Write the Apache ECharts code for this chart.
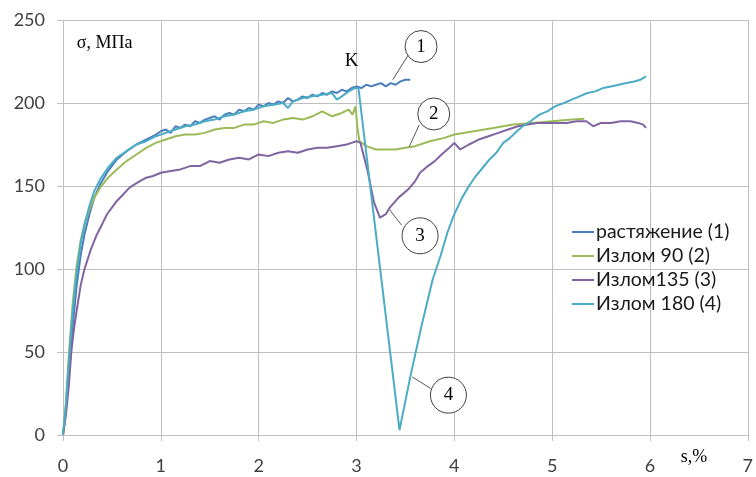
<!DOCTYPE html>
<html><head><meta charset="utf-8">
<script src="https://cdn.jsdelivr.net/npm/echarts@6/dist/echarts.min.js"></script>
<style>html,body{margin:0;padding:0;background:#fff}#c{width:756px;height:477px}</style>
</head><body><div id="c"></div>
<script>
// ---------- DATA ----------
const seriesNames = ['растяжение (1)', 'Излом 90 (2)', 'Излом135 (3)', 'Излом 180 (4)'];

const strainTension = [0,0.03,0.06,0.1,0.14,0.18,0.22,0.27,0.32,0.38,0.46,0.55,0.65,0.75,0.85,0.95,1.0,1.05,1.1,1.15,1.2,1.25,1.3,1.35,1.4,1.45,1.5,1.55,1.6,1.65,1.7,1.75,1.8,1.85,1.9,1.95,2.0,2.05,2.1,2.15,2.2,2.25,2.3,2.35,2.4,2.45,2.5,2.55,2.6,2.65,2.7,2.75,2.8,2.85,2.9,2.95,3.0,3.05,3.1,3.15,3.2,3.25,3.3,3.35,3.4,3.45,3.5,3.55];
const stressTension = [0,15,38,66,90,108,121,133,143,151,159,166,171,175,178,181,183,184,182,186,185,187,186,189,188,190,191,192,190,193,194,193,196,195,197,196,199,198,200,199,201,200,203,201,202,204,203,205,204,206,205,207,206,208,207,209,210,209,211,210,211,212,210,212,211,213,214,214];

const strainBend90 = [0,0.03,0.06,0.1,0.14,0.18,0.22,0.27,0.32,0.38,0.46,0.55,0.65,0.75,0.85,0.95,1.05,1.15,1.25,1.35,1.45,1.55,1.65,1.75,1.85,1.95,2.05,2.15,2.25,2.35,2.45,2.55,2.65,2.75,2.85,2.92,2.96,2.99,3.01,3.03,3.1,3.2,3.3,3.4,3.5,3.6,3.75,3.9,4.0,4.2,4.4,4.6,4.8,5.0,5.2,5.33];
const stressBend90 = [0,20,48,80,102,117,127,136,143,149,155,160,165,169,173,176,178,180,181,181,182,184,185,185,187,187,189,188,190,191,190,192,195,192,194,196,193,198,185,177,174,172,172,172,173,174,177,179,181,183,185,187,188,189,190,190.5];

const strainBend135 = [0,0.03,0.06,0.085,0.11,0.14,0.18,0.22,0.28,0.34,0.4,0.45,0.5,0.55,0.6,0.68,0.76,0.85,0.92,1.0,1.1,1.2,1.3,1.4,1.5,1.6,1.7,1.8,1.9,2.0,2.1,2.2,2.3,2.4,2.5,2.6,2.7,2.8,2.9,2.95,3.0,3.04,3.11,3.18,3.24,3.3,3.34,3.43,3.53,3.6,3.65,3.73,3.8,3.87,3.95,4.0,4.06,4.15,4.25,4.35,4.45,4.55,4.65,4.75,4.85,4.95,5.05,5.15,5.25,5.35,5.42,5.5,5.6,5.7,5.8,5.88,5.93,5.96];
const stressBend135 = [0,12,30,50,63,75,90,100,111,120,127,133,137,141,144,149,152,155,156,158,159,160,162,162,165,164,166,167,166,169,168,170,171,170,172,173,173,174,175,176,177,176,160,140,131,133,137,143,148,153,158,162,165,169,173,176,172,175,178,180,182,184,186,187,188,188,188,188,189,189,186,188,188,189,189,188,187,185];

const strainBend180 = [0,0.03,0.06,0.1,0.14,0.18,0.22,0.27,0.32,0.38,0.46,0.55,0.65,0.75,0.85,0.95,1.05,1.15,1.25,1.35,1.45,1.55,1.65,1.75,1.85,1.95,2.05,2.15,2.25,2.3,2.35,2.45,2.55,2.65,2.75,2.8,2.85,2.92,2.98,3.02,3.44,3.55,3.67,3.78,3.86,3.93,4.0,4.08,4.15,4.22,4.29,4.36,4.43,4.5,4.57,4.64,4.7,4.78,4.87,4.95,5.03,5.12,5.2,5.28,5.36,5.44,5.52,5.6,5.68,5.76,5.84,5.9,5.96];
const stressBend180 = [0,18,45,75,98,115,127,138,147,154,161,167,171,175,177,180,182,184,186,187,189,190,192,193,195,196,198,199,200,197,201,203,204,205,206,202,204,207,209,209,3,35,67,94,108,122,133,143,150,156,161,166,170,176,179,183,186,189,193,195,198,200,202,204,206,207,209,210,211,212,213,214,216];

const yMax = 250, yStep = 50, xMax = 7, xStep = 1;

// ---------- CHART ----------
const colors = ['#4A7EBB', '#9BBB59', '#8064A2', '#4BACC6'];
const xs = [strainTension, strainBend90, strainBend135, strainBend180];
const ys = [stressTension, stressBend90, stressBend135, stressBend180];

const chart = echarts.init(document.getElementById('c'), null, {renderer: 'canvas'});
const gridCol = '#BFBFBF';
const sansFont = 'Lato, "Open Sans", sans-serif';
const serifFont = '"Liberation Serif", "DejaVu Serif", serif';

const series = seriesNames.map((name, i) => ({
  name, type: 'line', showSymbol: false, symbol: 'none', smooth: false,
  data: xs[i].map((x, k) => [x, ys[i][k]]),
  lineStyle: {color: colors[i], width: 2},
  itemStyle: {color: colors[i]},
  emphasis: {disabled: true}
}));

chart.setOption({
  animation: false,
  backgroundColor: '#fff',
  color: colors,
  grid: {left: 63, right: 7, top: 20, bottom: 42, containLabel: false},
  xAxis: {
    type: 'value', min: 0, max: xMax, interval: xStep,
    axisLine: {show: true, lineStyle: {color: gridCol, width: 1}},
    axisTick: {show: true, inside: false, length: 6, lineStyle: {color: gridCol}},
    splitLine: {show: true, lineStyle: {color: gridCol, width: 1}},
    axisLabel: {color: '#404040', fontSize: 18, fontFamily: sansFont, margin: 22}
  },
  yAxis: {
    type: 'value', min: 0, max: yMax, interval: yStep,
    axisLine: {show: true, lineStyle: {color: gridCol, width: 1}},
    axisTick: {show: true, inside: false, length: 6, lineStyle: {color: gridCol}},
    splitLine: {show: true, lineStyle: {color: gridCol, width: 1}},
    axisLabel: {color: '#404040', fontSize: 18, fontFamily: sansFont, margin: 18}
  },
  legend: {
    orient: 'vertical', left: 572, top: 220, itemGap: 0, padding: 0,
    itemWidth: 22, itemHeight: 2, icon: 'rect',
    textStyle: {fontSize: 19.5, fontFamily: sansFont, color: '#1a1a1a', lineHeight: 24, padding: [0, 0, 0, -3]},
    data: seriesNames
  },
  series
});

// ---------- ANNOTATIONS (placed in data coordinates) ----------
const callouts = [
  {label: '1', c: [3.66, 234], r: 16, from: [3.53, 229], to: [3.37, 214]},
  {label: '2', c: [3.79, 193.4], r: 16, from: [3.64, 186.7], to: [3.54, 173.7]},
  {label: '3', c: [3.65, 120], r: 18, from: [3.46, 126.5], to: [3.34, 135.5]},
  {label: '4', c: [3.94, 24], r: 18, from: [3.76, 28], to: [3.57, 35]}
];
const P = v => chart.convertToPixel({gridIndex: 0}, v);
const g = [];
callouts.forEach(o => {
  const a = P(o.from), b = P(o.to), c = P(o.c);
  g.push({type: 'line', shape: {x1: a[0], y1: a[1], x2: b[0], y2: b[1]}, style: {stroke: '#595959', lineWidth: 1}, z: 10});
  g.push({type: 'circle', shape: {cx: c[0], cy: c[1], r: o.r}, style: {fill: '#fff', stroke: '#404040', lineWidth: 1}, z: 11});
  g.push({type: 'text', x: c[0], y: c[1], style: {text: o.label, fontSize: 19, fontFamily: serifFont, fill: '#000', align: 'center', verticalAlign: 'middle'}, z: 12});
});
const k = P([2.95, 225]);
g.push({type: 'text', x: k[0], y: k[1], style: {text: 'K', fontSize: 19, fontFamily: serifFont, fill: '#000', align: 'center', verticalAlign: 'middle'}, z: 12});
const sig = P([0.14, 236]);
g.push({type: 'text', x: sig[0], y: sig[1], style: {text: 'σ, МПа', fontSize: 18, fontFamily: serifFont, fill: '#000', align: 'left', verticalAlign: 'middle'}, z: 12});
const sx = P([6.45, -13.5]);
g.push({type: 'text', x: sx[0], y: sx[1], style: {text: 's,%', fontSize: 18, fontFamily: serifFont, fill: '#000', align: 'center', verticalAlign: 'middle'}, z: 12});
chart.setOption({graphic: g});
</script></body></html>
